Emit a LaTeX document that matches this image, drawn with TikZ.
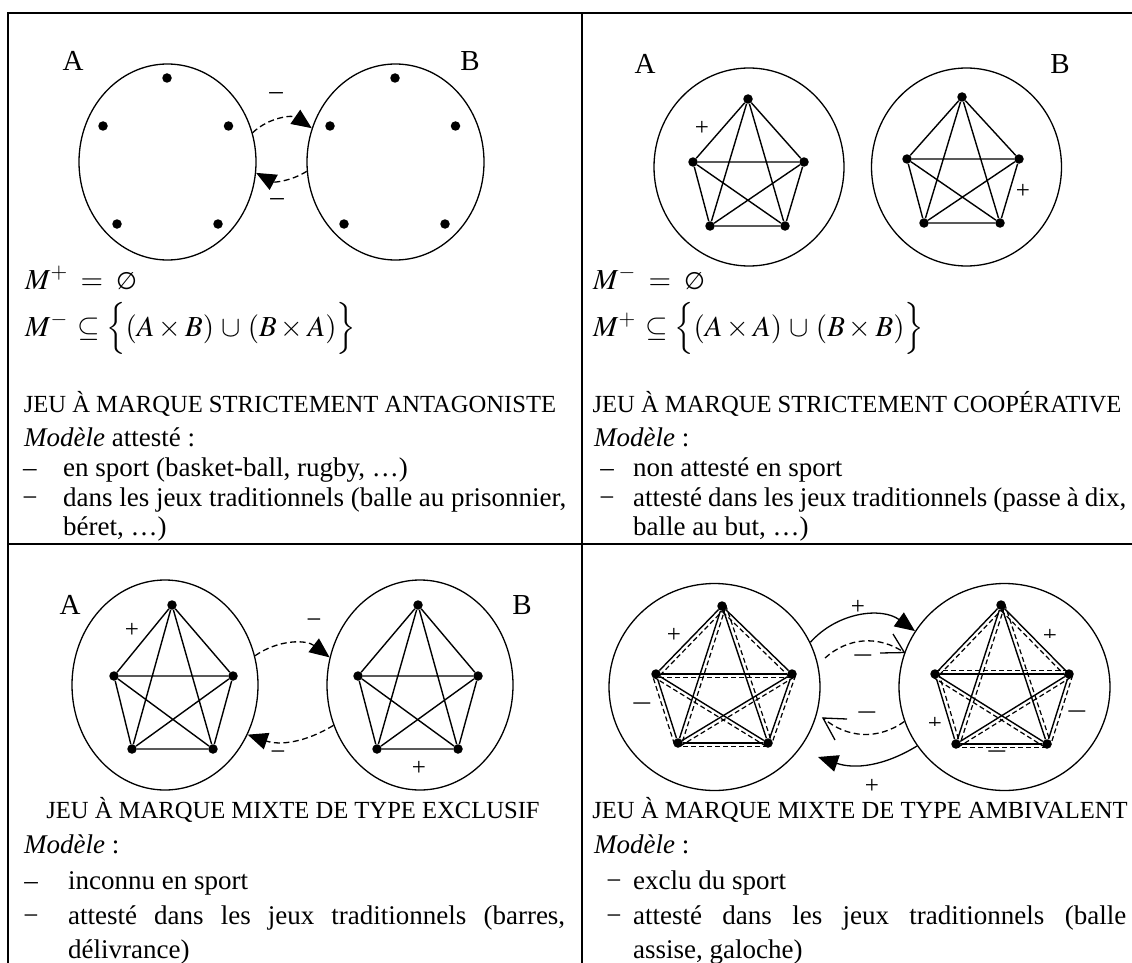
\documentclass[tikz,border=0pt]{standalone}
\usepackage{mathptmx}
\usepackage[no-math]{fontspec}
\setmainfont{Liberation Serif}
\newfontfamily\djvfont{DejaVu Sans}
\usepackage{graphicx}
\usetikzlibrary{arrows.meta,shapes.geometric,calc}

\newcommand\bodyf{\fontsize{27}{31}\selectfont}
\newcommand\titf{\fontsize{24.6}{29}\selectfont}
\newcommand\mathf{\fontsize{29}{33}\selectfont}
\newcommand\vide{\mbox{\djvfont\fontsize{24}{28}\selectfont ∅}}
\newcommand\wdash{\scalebox{1.35}[1]{−}}
\newcommand\kfive[5]{%
  \draw[kedge] (#1)--(#2) (#1)--(#3) (#1)--(#4) (#1)--(#5) (#2)--(#3)
               (#2)--(#4) (#2)--(#5) (#3)--(#4) (#3)--(#5) (#4)--(#5);}
\newcommand\dbl[2]{%
  \draw[kedge] (#1) -- (#2);
  \draw[dedge] ($(#1.center)!3.8pt!90:(#2.center)$) -- ($(#2.center)!3.8pt!-90:(#1.center)$);}

\begin{document}
\begin{tikzpicture}[x=1pt,y=1pt,
  framel/.style={line width=2.2pt},
  ov/.style={draw, ellipse, line width=1.3pt, inner sep=0pt},
  vdot/.style={circle, fill=black, inner sep=0pt, minimum size=9.5pt},
  kedge/.style={line width=1.4pt},
  dedge/.style={line width=1.2pt, dash pattern=on 5pt off 3pt},
  darrow/.style={line width=1.3pt, dash pattern=on 6pt off 3.5pt, -{Triangle[length=20pt,width=17pt]}},
  sarrow/.style={line width=1.3pt, -{Triangle[length=20pt,width=17pt]}},
  dline/.style={line width=1.3pt, dash pattern=on 6pt off 3.5pt},
  headl/.style={line width=1.3pt},
  txtl/.style={inner sep=0pt, anchor=base west, font=\bodyf},
  txtc/.style={inner sep=0pt, anchor=base, font=\bodyf},
  titl/.style={inner sep=0pt, anchor=base, font=\titf},
  frml/.style={inner sep=0pt, anchor=base west, font=\mathf, text height=20pt, text depth=6pt},
  lbl/.style={inner sep=0pt, font=\fontsize{29}{33}\selectfont},
  dsh/.style={inner sep=0pt, font=\fontsize{27}{31}\selectfont},
  pls/.style={inner sep=0pt, font=\fontsize{25}{29}\selectfont}]
\useasboundingbox (0,0) rectangle (1132,-963);
\fill[white] (0,0) rectangle (1132,-963);

% ---------- table frame
\draw[framel] (8,-963) -- (8,-13) -- (1132,-13);
\draw[framel] (582,-13) -- (582,-963);
\draw[framel] (8,-544) -- (1132,-544);

% ================= Panel 1 : antagoniste
\node[lbl] (LA1) at (73,-61) {A};
\node[lbl] (LB1) at (470,-61) {B};
\node[ov, minimum width=177pt, minimum height=196pt] (EA1) at (167.5,-162) {};
\node[ov, minimum width=177pt, minimum height=196pt] (EB1) at (395.5,-162) {};
\node[vdot] (a1) at (167,-78) {};
\node[vdot] (a2) at (103,-126) {};
\node[vdot] (a3) at (228.5,-126) {};
\node[vdot] (a4) at (117,-224) {};
\node[vdot] (a5) at (218,-224) {};
\node[vdot] (b1) at (395,-78) {};
\node[vdot] (b2) at (330,-126) {};
\node[vdot] (b3) at (455.5,-126) {};
\node[vdot] (b4) at (344,-224) {};
\node[vdot] (b5) at (445,-224) {};
\draw[darrow] (EA1.19) to[bend left=39] (EB1.158);
\draw[darrow] (EB1.186) to[bend left=30] (EA1.353);
\node[dsh] (m1a) at (276,-96) {–};
\node[dsh] (m1b) at (277,-202) {–};

\node[frml] (p1f1) at (25,-289) {$M^{+} \mathrel{\;=\;} \vide$};
\node[frml] (p1f2) at (25,-336) {$M^{-}\,\subseteq \Bigl\{(A\times B)\,\cup\,(B\times A)\Bigr\}$};
\node[titl] (p1t) at (290,-412) {JEU À MARQUE STRICTEMENT ANTAGONISTE};
\node[txtl] (p1m) at (24,-446) {\textit{Modèle} attesté :};
\node[txtc] (p1d1) at (30,-476) {–};
\node[txtl] (p1b1) at (63,-476) {en sport (basket-ball, rugby, …)};
\node[txtc] (p1d2) at (30,-506) {−};
\node[txtl] (p1b2) at (63,-506) {\makebox[503pt][s]{dans les jeux traditionnels (balle au prisonnier,}};
\node[txtl] (p1b3) at (63,-535) {béret, …)};

% ================= Panel 2 : cooperative
\node[lbl] (LA2) at (645,-64) {A};
\node[lbl] (LB2) at (1060,-64) {B};
\node[ov, minimum width=190pt, minimum height=198pt] (CA2) at (749,-167) {};
\node[ov, minimum width=190pt, minimum height=198pt] (CB2) at (966.5,-167) {};
\node[vdot] (pa1) at (748,-99) {};
\node[vdot] (pa2) at (693,-162) {};
\node[vdot] (pa3) at (804,-162) {};
\node[vdot] (pa4) at (710,-226) {};
\node[vdot] (pa5) at (785,-226) {};
\node[vdot] (pb1) at (962,-97) {};
\node[vdot] (pb2) at (907,-159) {};
\node[vdot] (pb3) at (1019,-159) {};
\node[vdot] (pb4) at (924,-223) {};
\node[vdot] (pb5) at (1000,-223) {};
\kfive{pa1}{pa2}{pa3}{pa4}{pa5}
\kfive{pb1}{pb2}{pb3}{pb4}{pb5}
\node[pls] (pl2a) at (702,-128) {+};
\node[pls] (pl2b) at (1023,-191) {+};

\node[frml] (p2f1) at (593,-289) {$M^{-} \mathrel{\;=\;} \vide$};
\node[frml] (p2f2) at (593,-336) {$M^{+}\,\subseteq \Bigl\{(A\times A)\,\cup\,(B\times B)\Bigr\}$};
\node[titl] (p2t) at (857,-412) {JEU À MARQUE STRICTEMENT COOPÉRATIVE};
\node[txtl] (p2m) at (594,-446) {\textit{Modèle} :};
\node[txtc] (p2d1) at (607,-476) {–};
\node[txtl] (p2b1) at (633,-476) {non attesté en sport};
\node[txtc] (p2d2) at (607,-506) {−};
\node[txtl] (p2b2) at (633,-506) {\makebox[493pt][s]{attesté dans les jeux traditionnels (passe à dix,}};
\node[txtl] (p2b3) at (633,-535) {balle au but, …)};

% ================= Panel 3 : mixte exclusif
\node[lbl] (LA3) at (70,-605) {A};
\node[lbl] (LB3) at (522,-605) {B};
\node[ov, minimum width=186pt, minimum height=210pt] (CA3) at (165,-685) {};
\node[ov, minimum width=186pt, minimum height=210pt] (CB3) at (420,-685) {};
\node[vdot] (ra1) at (172,-605) {};
\node[vdot] (ra2) at (114,-676) {};
\node[vdot] (ra3) at (233,-676) {};
\node[vdot] (ra4) at (132,-749) {};
\node[vdot] (ra5) at (213,-749) {};
\node[vdot] (rb1) at (418,-605) {};
\node[vdot] (rb2) at (358,-676) {};
\node[vdot] (rb3) at (478,-676) {};
\node[vdot] (rb4) at (377,-749) {};
\node[vdot] (rb5) at (458,-749) {};
\kfive{ra1}{ra2}{ra3}{ra4}{ra5}
\kfive{rb1}{rb2}{rb3}{rb4}{rb5}
\node[pls] (pl3a) at (132,-630) {+};
\node[pls] (pl3b) at (419,-768) {+};
\draw[darrow] (CA3.18) to[bend left=36] (CB3.163);
\draw[darrow] (CB3.205) to[bend left=25] (CA3.329);
\node[dsh] (m3a) at (314,-624) {−};
\node[dsh] (m3b) at (278,-756) {−};

\node[titl] (p3t) at (293,-818) {JEU À MARQUE MIXTE DE TYPE EXCLUSIF};
\node[txtl] (p3m) at (24,-853) {\textit{Modèle} :};
\node[txtc] (p3d1) at (31,-889) {–};
\node[txtl] (p3b1) at (68,-889) {inconnu en sport};
\node[txtc] (p3d2) at (31,-924) {−};
\node[txtl] (p3b2) at (68,-924) {\makebox[497pt][s]{attesté dans les jeux traditionnels (barres,}};
\node[txtl] (p3b3) at (68,-958) {délivrance)};

% ================= Panel 4 : mixte ambivalent
\node[ov, minimum width=211pt, minimum height=207pt] (CA4) at (714.5,-687) {};
\node[ov, minimum width=211pt, minimum height=207pt] (CB4) at (1004.5,-687) {};
\node[vdot] (qa1) at (722,-606) {};
\node[vdot] (qa2) at (656,-674) {};
\node[vdot] (qa3) at (792,-674) {};
\node[vdot] (qa4) at (678,-743) {};
\node[vdot] (qa5) at (768,-743) {};
\node[vdot] (qb1) at (1001,-605) {};
\node[vdot] (qb2) at (935,-674) {};
\node[vdot] (qb3) at (1069,-674) {};
\node[vdot] (qb4) at (956,-744) {};
\node[vdot] (qb5) at (1047,-744) {};
\dbl{qa1}{qa2} \dbl{qa3}{qa1} \dbl{qa3}{qa2} \dbl{qa5}{qa4} \dbl{qa4}{qa2}
\dbl{qa3}{qa5} \dbl{qa1}{qa4} \dbl{qa1}{qa5} \dbl{qa5}{qa2} \dbl{qa3}{qa4}
\dbl{qb1}{qb2} \dbl{qb3}{qb1} \dbl{qb2}{qb3} \dbl{qb5}{qb4} \dbl{qb2}{qb4}
\dbl{qb3}{qb5} \dbl{qb1}{qb4} \dbl{qb1}{qb5} \dbl{qb5}{qb2} \dbl{qb3}{qb4}
\node[pls] (pl4a) at (674,-635) {+};
\node[dsh] (m4a) at (642,-708) {\wdash};
\begin{scope}
  \clip (1038,-637.5) rectangle (1062,-620);
  \node[pls] (pl4b) at (1050,-636) {+};
\end{scope}
\begin{scope}
  \clip (923,-725.5) rectangle (947,-708);
  \node[pls] (pl4c) at (935,-724) {+};
\end{scope}
\node[dsh] (m4b) at (1077,-716) {\wdash};
\node[dsh] (m4c) at (997,-756) {\wdash};

% arrows between the two teams
\draw[sarrow] (CA4.25) to[bend left=42] (CB4.148);
\coordinate (u1s) at (825,-658);
\draw[dline] (u1s) to[bend left=38] (CB4.161);
\coordinate (u1h1) at (880,-653);
\coordinate (u1h2) at (893,-634);
\draw[headl] (u1h1) -- (CB4.161) -- (u1h2);
\coordinate (u2e) at (823,-718);
\draw[dline] (CB4.199) to[bend left=38] (u2e);
\coordinate (u2h1) at (847,-719);
\coordinate (u2h2) at (835,-740);
\draw[headl] (u2h1) -- (u2e) -- (u2h2);
\coordinate (u3e) at (818,-757);
\draw[sarrow] (CB4.214) to[bend left=25] (u3e);
\node[pls] (pl4t) at (858,-607) {+};
\node[dsh] (m4t) at (863,-660) {\wdash};
\node[dsh] (m4u) at (867,-717) {\wdash};
\node[pls] (pl4u) at (872,-786) {+};

\node[titl] (p4t) at (860,-818) {JEU À MARQUE MIXTE DE TYPE AMBIVALENT};
\node[txtl] (p4m) at (594,-853) {\textit{Modèle} :};
\node[txtc] (p4d1) at (614,-889) {−};
\node[txtl] (p4b1) at (633,-889) {exclu du sport};
\node[txtc] (p4d2) at (614,-924) {−};
\node[txtl] (p4b2) at (633,-924) {\makebox[493pt][s]{attesté dans les jeux traditionnels (balle}};
\node[txtl] (p4b3) at (633,-958) {assise, galoche)};
\end{tikzpicture}
\end{document}
